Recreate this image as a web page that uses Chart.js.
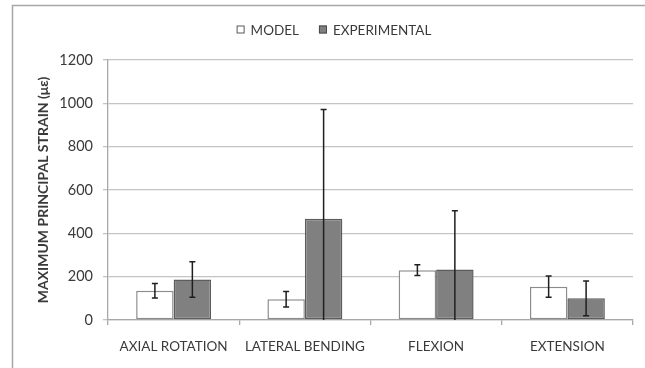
<!DOCTYPE html>
<html>
<head>
<meta charset="utf-8">
<title>Maximum principal strain</title>
<script src="https://cdn.jsdelivr.net/npm/chart.js@4/dist/chart.umd.min.js"></script>
<style>
  html, body { margin: 0; padding: 0; background: #ffffff; overflow: hidden; }
  #wrap { position: relative; width: 645px; height: 368px; }
  canvas { display: block; }
</style>
</head>
<body>
<div id="wrap"><canvas id="strainChart" width="645" height="368"></canvas></div>
<script>
// Loading cases and measured / simulated peak strains (microstrain)
const categories = ['AXIAL ROTATION', 'LATERAL BENDING', 'FLEXION', 'EXTENSION'];
const modelStrain = [135, 96, 230, 154];
const modelError = [33, 36, 25, 49];
const experimentalStrain = [187, 467, 233, 100];
const experimentalError = [82, 505, 271, 80];
const seriesNames = ['MODEL', 'EXPERIMENTAL'];
const yAxisTitle = 'MAXIMUM PRINCIPAL STRAIN (\u03bc\u03b5)';
const yMin = 0, yMax = 1200, yStep = 200;

const TEXT = '#3a3a3a';
const GRID = '#c4c4c4';
const AXIS = '#a8a8a8';
const FONT = 'Lato, "Liberation Sans", Arial, sans-serif';

Chart.defaults.font.family = FONT;
Chart.defaults.color = TEXT;

// Outer frame of the chart object
const framePlugin = {
  id: 'frame',
  beforeDraw(chart) {
    const ctx = chart.ctx;
    ctx.save();
    ctx.fillStyle = '#ffffff';
    ctx.fillRect(0, 0, chart.width, chart.height);
    ctx.strokeStyle = '#a6a6a6';
    ctx.lineWidth = 1.5;
    ctx.strokeRect(12.5, 5.5, 800, 500);
    ctx.restore();
  }
};

// Symmetric error bars (± one SD) drawn through the value scale
const errorBarPlugin = {
  id: 'errorBars',
  afterDatasetsDraw(chart, args, opts) {
    const ctx = chart.ctx;
    const y = chart.scales.y;
    const area = chart.chartArea;
    ctx.save();
    ctx.beginPath();
    ctx.rect(area.left, area.top - 10, area.right - area.left, area.bottom - area.top + 10);
    ctx.clip();
    ctx.strokeStyle = opts.color;
    ctx.lineWidth = opts.width;
    chart.data.datasets.forEach((ds, di) => {
      const meta = chart.getDatasetMeta(di);
      meta.data.forEach((bar, i) => {
        const v = ds.data[i], e = ds.errors[i];
        const yt = y.getPixelForValue(v + e);
        const yb = y.getPixelForValue(v - e);
        const x = bar.x;
        ctx.beginPath();
        ctx.moveTo(x, yt); ctx.lineTo(x, yb);
        ctx.moveTo(x - opts.cap, yt); ctx.lineTo(x + opts.cap, yt);
        ctx.moveTo(x - opts.cap, yb); ctx.lineTo(x + opts.cap, yb);
        ctx.stroke();
      });
    });
    ctx.restore();
  }
};

// Series key across the top of the frame
const keyPlugin = {
  id: 'seriesKey',
  afterDraw(chart, args, opts) {
    const ctx = chart.ctx;
    ctx.save();
    ctx.font = opts.font;
    ctx.textBaseline = 'middle';
    ctx.textAlign = 'left';
    const sets = chart.data.datasets;
    const widths = sets.map(ds => opts.box + opts.textGap + ctx.measureText(ds.label).width);
    const total = widths.reduce((a, b) => a + b, 0) + opts.itemGap * (sets.length - 1);
    let x = opts.centerX - total / 2;
    sets.forEach((ds, i) => {
      const top = opts.centerY - opts.box / 2;
      ctx.fillStyle = ds.backgroundColor;
      ctx.fillRect(x, top, opts.box, opts.box);
      ctx.strokeStyle = ds.keyBorder;
      ctx.lineWidth = 1;
      ctx.strokeRect(x + 0.5, top + 0.5, opts.box - 1, opts.box - 1);
      ctx.fillStyle = TEXT;
      ctx.fillText(ds.label, x + opts.box + opts.textGap, opts.centerY + 1);
      x += widths[i] + opts.itemGap;
    });
    ctx.restore();
  }
};

new Chart(document.getElementById('strainChart'), {
  type: 'bar',
  data: {
    labels: categories,
    datasets: [
      {
        label: seriesNames[0],
        data: modelStrain,
        errors: modelError,
        backgroundColor: '#ffffff',
        borderColor: '#8c8c8c',
        keyBorder: '#595959',
        borderWidth: 1.5,
        borderSkipped: false
      },
      {
        label: seriesNames[1],
        data: experimentalStrain,
        errors: experimentalError,
        backgroundColor: '#808080',
        borderColor: '#5c5c5c',
        keyBorder: '#4a4a4a',
        borderWidth: 1.5,
        borderSkipped: false
      }
    ]
  },
  options: {
    responsive: false,
    animation: false,
    devicePixelRatio: 1,
    categoryPercentage: 0.571,
    barPercentage: 1.0,
    layout: { padding: { top: 60, left: 34, right: 12, bottom: 0 } },
    plugins: {
      legend: { display: false },
      tooltip: { enabled: false },
      errorBars: { color: '#1f1f1f', width: 1.5, cap: 3 },
      seriesKey: {
        font: '13.5px ' + FONT,
        box: 8, textGap: 6, itemGap: 20,
        centerX: 334, centerY: 29.5
      }
    },
    scales: {
      x: {
        grid: {
          display: true,
          drawOnChartArea: false,
          drawTicks: true,
          tickLength: 5,
          color: AXIS,
          lineWidth: 1.3,
          offset: true
        },
        border: { display: true, color: AXIS, width: 1.3 },
        ticks: {
          color: TEXT,
          font: { size: 13.5 },
          padding: 14,
          maxRotation: 0,
          autoSkip: false
        },
        afterFit(scale) { scale.height = 48; }
      },
      y: {
        min: yMin,
        max: yMax,
        grid: {
          color: GRID,
          lineWidth: 1.3,
          drawTicks: true,
          tickLength: 5
        },
        border: { display: true, color: AXIS, width: 1.3 },
        ticks: {
          stepSize: yStep,
          color: TEXT,
          font: { size: 14.5 },
          padding: 10,
          callback: (value) => String(value)
        },
        title: {
          display: true,
          text: yAxisTitle,
          color: TEXT,
          font: { size: 14, weight: 'bold' },
          padding: { top: 1, bottom: 0 }
        },
        afterFit(scale) { scale.width = 74; }
      }
    }
  },
  plugins: [framePlugin, errorBarPlugin, keyPlugin]
});
</script>
</body>
</html>
